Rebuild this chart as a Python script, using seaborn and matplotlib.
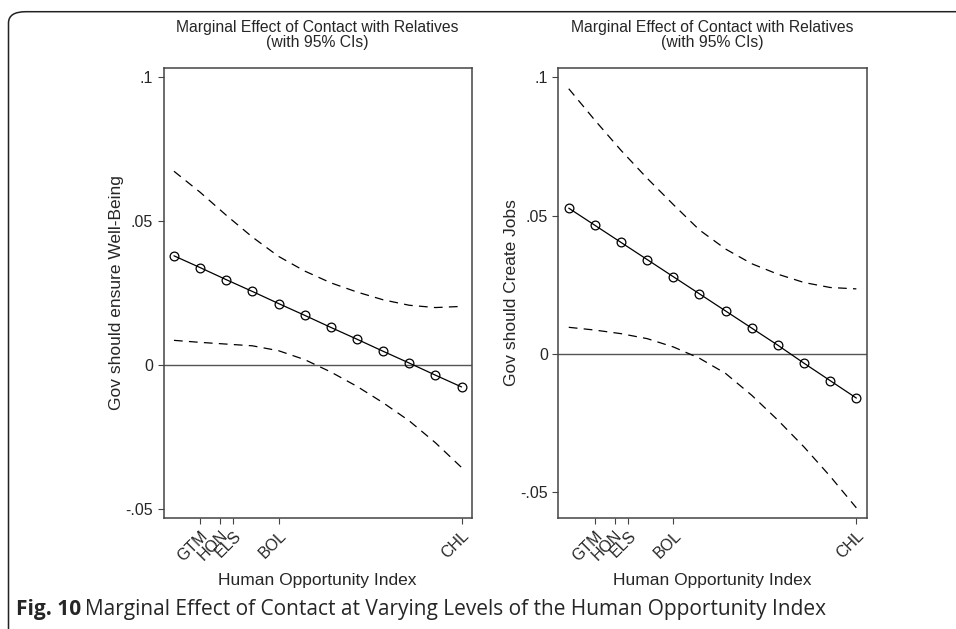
import matplotlib
matplotlib.use("Agg")
import matplotlib.pyplot as plt
import seaborn as sns
import pandas as pd
from matplotlib.patches import FancyBboxPatch

# evaluation points of the Human Opportunity Index
hoi_grid = [45, 49, 53, 57, 61, 65, 69, 73, 77, 81, 85, 89]

# country markers on the x axis
countries = ["GTM", "HON", "ELS", "BOL", "CHL"]
country_hoi = [49, 52, 54.1, 61, 89]

# Gov should ensure Well-Being
wellbeing_me = [0.0379, 0.0338, 0.0296, 0.0255, 0.0213, 0.0172, 0.0130, 0.0089, 0.0047, 0.0006, -0.0036, -0.0077]
wellbeing_hi = [0.0673, 0.0600, 0.0520, 0.0444, 0.0377, 0.0326, 0.0285, 0.0253, 0.0226, 0.0207, 0.0199, 0.0203]
wellbeing_lo = [0.0085, 0.0078, 0.0072, 0.0066, 0.0049, 0.0018, -0.0025, -0.0075, -0.0132, -0.0195, -0.0271, -0.0357]

# Gov should Create Jobs
jobs_me = [0.0527, 0.0465, 0.0403, 0.0341, 0.0279, 0.0217, 0.0155, 0.0093, 0.0031, -0.0034, -0.0097, -0.0160]
jobs_hi = [0.0959, 0.0845, 0.0736, 0.0635, 0.0540, 0.0448, 0.0379, 0.0326, 0.0288, 0.0258, 0.0240, 0.0235]
jobs_lo = [0.0096, 0.0086, 0.0073, 0.0055, 0.0025, -0.0016, -0.0071, -0.0150, -0.0240, -0.0337, -0.0443, -0.0557]

panel_ylabels = ["Gov should ensure Well-Being", "Gov should Create Jobs"]
title = "Marginal Effect of Contact with Relatives\n(with 95% CIs)"

sns.set_style("ticks")
plt.rcParams["font.family"] = ["Liberation Sans", "DejaVu Sans"]

fig = plt.figure(figsize=(9.56, 6.29), dpi=100)

# rounded frame around the figure
frame = FancyBboxPatch((8.5 / 956, -0.2), 1.2, 1.2 - 11.7 / 629,
                       boxstyle="round,pad=0,rounding_size=0.018",
                       transform=fig.transFigure, fill=False,
                       edgecolor="#222222", linewidth=1.1, zorder=0)
fig.patches.append(frame)

panels = [
    (wellbeing_me, wellbeing_hi, wellbeing_lo, 163.5, (-0.0531, 0.1032)),
    (jobs_me, jobs_hi, jobs_lo, 558.3, (-0.0592, 0.1034)),
]

spine_col = "#444444"
for k, (me, hi, lo, left_px, ylim) in enumerate(panels):
    ax = fig.add_axes([left_px / 956, 1 - 517.5 / 629, 308.5 / 956, (517.5 - 68) / 629])
    df = pd.DataFrame({"hoi": hoi_grid, "me": me, "hi": hi, "lo": lo})

    ax.axhline(0, color="#555555", lw=1.0, zorder=1)
    sns.lineplot(data=df, x="hoi", y="hi", ax=ax, color="black", lw=0.9,
                 linestyle=(0, (7, 5)))
    sns.lineplot(data=df, x="hoi", y="lo", ax=ax, color="black", lw=0.9,
                 linestyle=(0, (7, 5)))
    sns.lineplot(data=df, x="hoi", y="me", ax=ax, color="black", lw=0.9,
                 marker="o", markersize=6.3, markerfacecolor="none",
                 markeredgecolor="black", markeredgewidth=0.9)

    ax.set_xlim(43.4, 90.6)
    ax.set_ylim(*ylim)
    ax.set_yticks([-0.05, 0, 0.05, 0.1])
    ax.set_yticklabels(["-.05", "0", ".05", ".1"])
    ax.set_xticks(country_hoi)
    ax.set_xticklabels(countries, rotation=45, ha="right", va="top",
                       rotation_mode="anchor")
    ax.tick_params(direction="out", length=4.5, width=0.8, color=spine_col,
                   labelsize=11.5, pad=3)
    for s in ax.spines.values():
        s.set_color(spine_col)
        s.set_linewidth(1.1)
    ax.set_xlabel("Human Opportunity Index", fontsize=12.5, labelpad=7)
    ax.set_ylabel(panel_ylabels[k], fontsize=12.5, labelpad=1)
    ax.set_title(title, fontsize=11.3, linespacing=1.0, pad=15)

# caption with bold figure number
fig.canvas.draw()
r = fig.canvas.get_renderer()
cap_font = ["Open Sans", "DejaVu Sans"]
t1 = fig.text(16 / 956, 1 - 615 / 629, "Fig. 10", fontsize=15,
              fontweight="bold", family=cap_font, va="baseline")
bb = t1.get_window_extent(renderer=r)
fig.text((bb.x1 + 4) / 956, 1 - 615 / 629,
         "Marginal Effect of Contact at Varying Levels of the Human Opportunity Index",
         fontsize=15, family=cap_font, va="baseline")

fig.savefig("out.png", dpi=100)
